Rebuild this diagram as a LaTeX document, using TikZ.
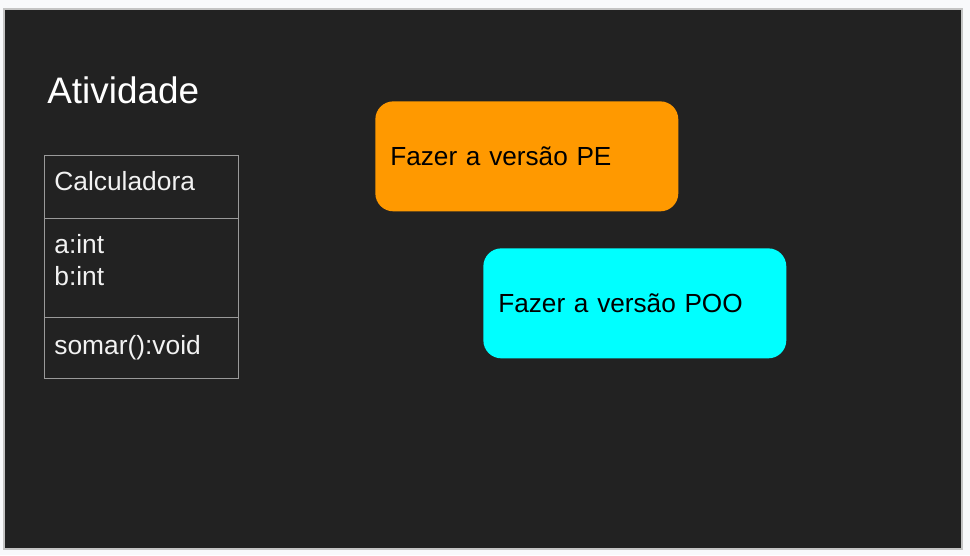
\documentclass[tikz,border=0pt]{standalone}
\usepackage{fontspec}
\setmainfont{Liberation Sans}
\usetikzlibrary{positioning}
\definecolor{slidebg}{HTML}{222222}
\definecolor{pagebg}{HTML}{F8F9FB}
\definecolor{framegray}{HTML}{C4C4C4}
\definecolor{umlline}{HTML}{9A9A9A}
\definecolor{umltext}{HTML}{F2F2F2}
\definecolor{taskorange}{HTML}{FF9900}
\definecolor{taskcyan}{HTML}{00FFFF}

\begin{document}
\begin{tikzpicture}[x=0.02cm,y=-0.02cm,
    compart/.style={draw=umlline, line width=0.6pt, minimum width=3.88cm, anchor=north west, inner sep=0pt},
    umllabel/.style={text=umltext, font=\fontsize{15}{18.2}\selectfont, anchor=base west, inner sep=0pt, align=left},
    taskbox/.style={rounded corners=0.36cm, minimum height=2.2cm, text width=5.46cm, inner xsep=0.3cm,
      inner ysep=0pt, align=left, anchor=north west, font=\fontsize{14.9}{18}\selectfont}]
    % page and slide
    \fill[pagebg] (0,0) rectangle (970,555);
    \draw[fill=slidebg, draw=framegray, line width=0.8pt] (4,9) rectangle (962,549);

    % title
    \node[text=white, font=\fontsize{21}{25}\selectfont, anchor=base west, inner sep=0pt] (title) at (47,103) {Atividade};

    % class box
    \node[compart, minimum height=1.26cm] (cname) at (44,155) {};
    \node[compart, minimum height=1.98cm] (cattr) at (44,218) {};
    \node[compart, minimum height=1.22cm] (cops) at (44,317) {};
    \node[umllabel] (cnametxt) at (54,190) {Calculadora};
    \node[umllabel] (cattrtxt) at (54,285) {a:int\\b:int};
    \node[umllabel] (copstxt) at (54,354) {somar():void};

    % tasks
    \node[taskbox, fill=taskorange] (pe) at (375,101) {Fazer a versão PE};
    \node[taskbox, fill=taskcyan] (poo) at (483,248) {Fazer a versão POO};
\end{tikzpicture}
\end{document}
